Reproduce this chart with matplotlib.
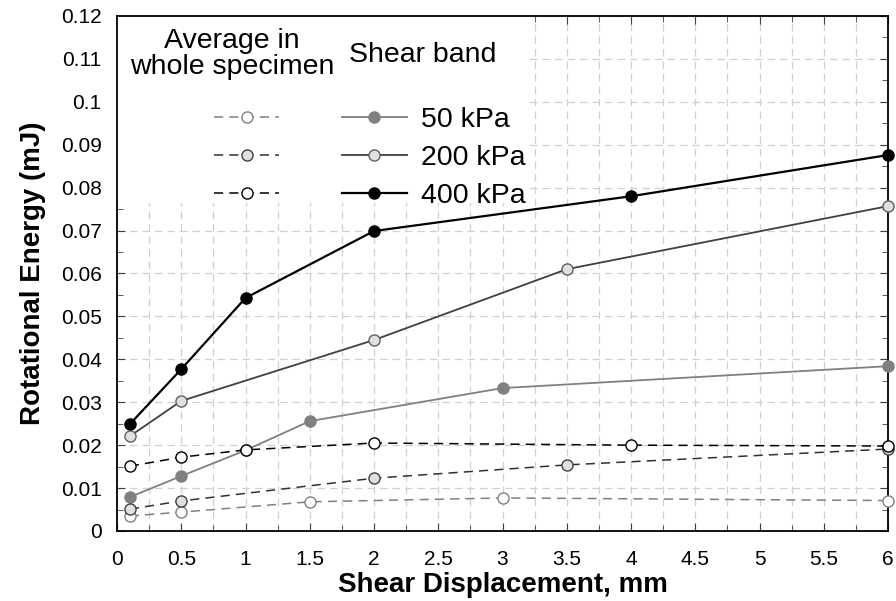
import numpy as np
import matplotlib.pyplot as plt
from matplotlib.lines import Line2D
from matplotlib.patches import Rectangle
from matplotlib.ticker import MultipleLocator

plt.rcParams['font.family'] = ['Liberation Sans', 'DejaVu Sans']

# shear band
x_sb_50 = [0.1, 0.5, 1.0, 1.5, 3.0, 6.0]
y_sb_50 = [0.0079, 0.0128, 0.0188, 0.0256, 0.0333, 0.0384]
x_sb_200 = [0.1, 0.5, 2.0, 3.5, 6.0]
y_sb_200 = [0.0221, 0.0303, 0.0445, 0.0610, 0.0757]
x_sb_400 = [0.1, 0.5, 1.0, 2.0, 4.0, 6.0]
y_sb_400 = [0.0249, 0.0377, 0.0543, 0.0699, 0.0780, 0.0876]

# average in whole specimen
x_av_50 = [0.1, 0.5, 1.5, 3.0, 6.0]
y_av_50 = [0.0035, 0.0044, 0.0068, 0.0077, 0.0071]
x_av_200 = [0.1, 0.5, 2.0, 3.5, 6.0]
y_av_200 = [0.0051, 0.0070, 0.0123, 0.0154, 0.0191]
x_av_400 = [0.1, 0.5, 1.0, 2.0, 4.0, 6.0]
y_av_400 = [0.0151, 0.0172, 0.0189, 0.0205, 0.0200, 0.0198]

labels = ['50 kPa', '200 kPa', '400 kPa']

W, H = 896, 601
fig = plt.figure(figsize=(W / 100, H / 100), dpi=100)
ax = fig.add_axes([117 / W, 70 / H, 771 / W, 515 / H])

ms = 8
sb_styles = [
    dict(color='#808080', marker='o', mfc='#808080', mec='#808080', lw=1.3),
    dict(color='#404040', marker='o', mfc='#e0e0e0', mec='#606060', lw=1.3),
    dict(color='black', marker='o', mfc='black', mec='black', lw=1.6),
]
av_styles = [
    dict(color='#808080', marker='o', mfc='white', mec='#808080', lw=1.1, dashes=(6, 4)),
    dict(color='#303030', marker='o', mfc='#e0e0e0', mec='#404040', lw=1.1, dashes=(6, 4)),
    dict(color='black', marker='o', mfc='white', mec='black', lw=1.1, dashes=(6, 4)),
]

sb = [(x_sb_50, y_sb_50), (x_sb_200, y_sb_200), (x_sb_400, y_sb_400)]
av = [(x_av_50, y_av_50), (x_av_200, y_av_200), (x_av_400, y_av_400)]

for (xs, ys), st in zip(av, av_styles):
    ax.plot(xs, ys, ms=ms, zorder=4, clip_on=False, **st)
for (xs, ys), st in zip(sb, sb_styles):
    ax.plot(xs, ys, ms=ms, zorder=3, clip_on=False, **st)

ax.set_xlim(0, 6)
ax.set_ylim(0, 0.12)
ax.xaxis.set_major_locator(MultipleLocator(0.5))
ax.xaxis.set_minor_locator(MultipleLocator(0.25))
ax.yaxis.set_major_locator(MultipleLocator(0.01))
ax.yaxis.set_minor_locator(MultipleLocator(0.005))
ax.xaxis.set_major_formatter(lambda v, p: f'{v:g}')
ax.yaxis.set_major_formatter(lambda v, p: f'{v:g}')
ax.tick_params(which='both', direction='in', top=True, right=True, labelsize=15,
               color='#404040')
ax.tick_params(which='major', length=6)
ax.tick_params(which='minor', length=4)
ax.tick_params(axis='x', pad=14)
ax.tick_params(axis='y', pad=11)
grid_kw = dict(color='#d0d0d0', ls=(0, (6, 4)), lw=0.9)
ax.grid(True, which='both', axis='x', **grid_kw)
ax.grid(True, which='major', axis='y', **grid_kw)
ax.set_axisbelow(True)
for s in ax.spines.values():
    s.set_linewidth(1.3)

ax.set_xlabel('Shear Displacement, mm', fontsize=20, fontweight='bold', labelpad=2)
ax.set_ylabel('Rotational Energy (mJ)', fontsize=20, fontweight='bold', labelpad=11)

# white area behind the legend
ax.add_patch(Rectangle((0, 0.637), 0.536, 0.363, transform=ax.transAxes,
                       facecolor='white', edgecolor='none', zorder=1))

ax.text(232 / W, 1 - 54 / H, 'Average in\nwhole specimen', transform=fig.transFigure,
        ha='center', va='center', fontsize=20.5, linespacing=0.95, zorder=5)
ax.text(423 / W, 1 - 55 / H, 'Shear band', transform=fig.transFigure,
        ha='center', va='center', fontsize=20.5, zorder=5)

av_handles = [Line2D([], [], ms=ms, **st) for st in av_styles]
sb_handles = [Line2D([], [], ms=ms, **st) for st in sb_styles]

leg_kw = dict(frameon=False, bbox_transform=fig.transFigure, handlelength=2.3,
              fontsize=20.5, labelspacing=0.42, numpoints=1, borderpad=0,
              borderaxespad=0)
leg1 = ax.legend(av_handles, ['', '', ''], loc='center',
                 bbox_to_anchor=(246.5 / W, 1 - 158 / H), handletextpad=0, **leg_kw)
leg1.set_zorder(6)
ax.add_artist(leg1)
leg2 = ax.legend(sb_handles, labels, loc='center left',
                 bbox_to_anchor=(341.5 / W, 1 - 158 / H), handletextpad=0.5, **leg_kw)
leg2.set_zorder(6)

fig.savefig('out.png', dpi=100)
